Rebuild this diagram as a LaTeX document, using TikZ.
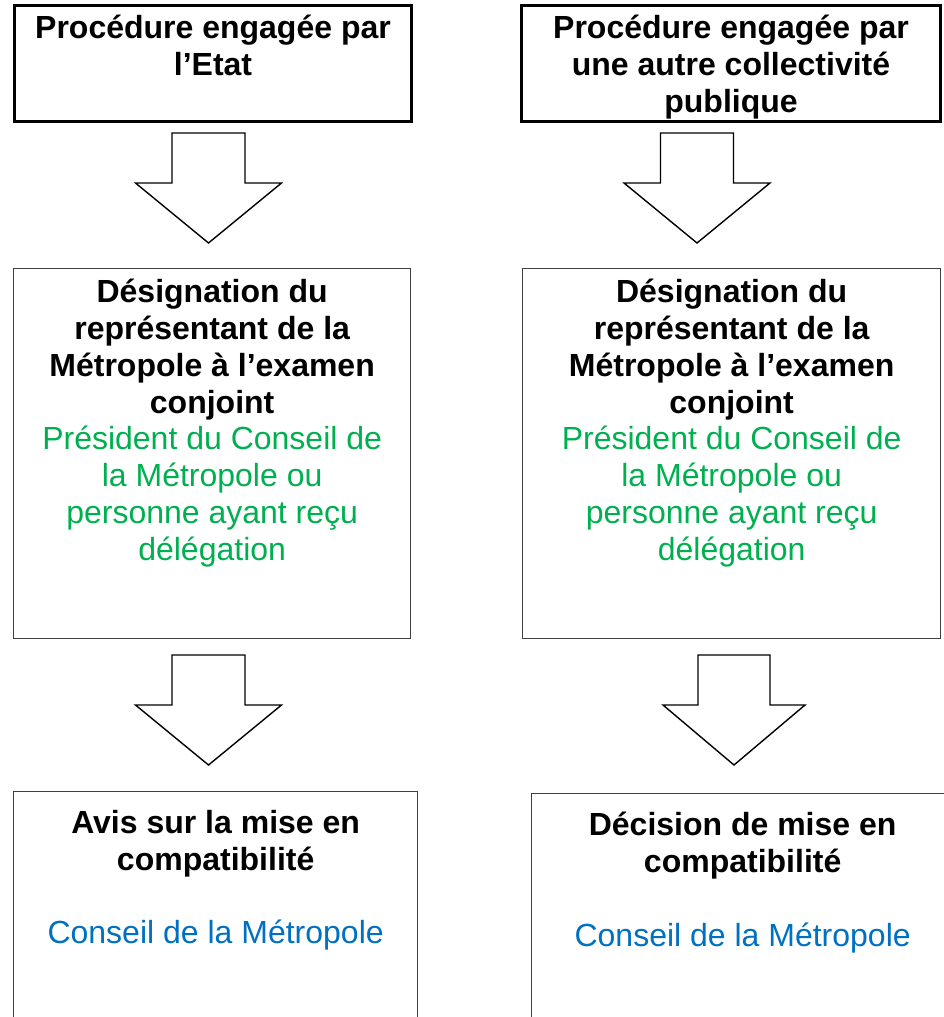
\documentclass[tikz,border=0pt]{standalone}
\usepackage{fontspec}
\setmainfont{Liberation Sans}
\usetikzlibrary{calc}
\definecolor{vert}{HTML}{00B050}
\definecolor{bleu}{HTML}{0070C0}

\begin{document}
\begin{tikzpicture}[x=1pt,y=-1pt,
	titre/.style={draw,line width=3pt,anchor=north west,inner sep=0pt},
	cadre/.style={draw=black!75,line width=1.3pt,anchor=north west,inner sep=0pt},
	texte/.style={anchor=north,align=center,inner sep=0pt,font=\fontsize{32}{36.8}\selectfont},
	fleche/.style={draw,line width=1.4pt,line join=miter}]
		\clip (0,0) rectangle (944,1017);
		
		% cadres du haut
		\node[titre,minimum width=397pt,minimum height=116pt] (etat) at (13,4) {};
		\node[titre,minimum width=419pt,minimum height=116pt] (autre) at (520,4) {};
		\node[texte,font=\fontsize{32}{36.8}\selectfont\bfseries] (t-etat) at ($(etat.north)+(0,11)$) {Procédure engagée par\\l’Etat};
		\node[texte,font=\fontsize{32}{36.8}\selectfont\bfseries] (t-autre) at ($(autre.north)+(0,11)$) {Procédure engagée par\\une autre collectivité\\publique};
		
		% designation
		\node[cadre,minimum width=397pt,minimum height=370pt] (desig1) at (13,268) {};
		\node[cadre,minimum width=418pt,minimum height=370pt] (desig2) at (522,268) {};
		\node[texte] (t-desig1) at ($(desig1.north)+(0,11)$) {\bfseries Désignation du\\\bfseries représentant de la\\\bfseries Métropole à l’examen\\\bfseries conjoint\\\color{vert}Président du Conseil de\\\color{vert}la Métropole ou\\\color{vert}personne ayant reçu\\\color{vert}délégation};
		\node[texte] (t-desig2) at ($(desig2.north)+(0,11)$) {\bfseries Désignation du\\\bfseries représentant de la\\\bfseries Métropole à l’examen\\\bfseries conjoint\\\color{vert}Président du Conseil de\\\color{vert}la Métropole ou\\\color{vert}personne ayant reçu\\\color{vert}délégation};
		
		% cadres du bas (coupes par le bord)
		\node[cadre,minimum width=404pt,minimum height=260pt] (avis) at (13,791) {};
		\node[cadre,minimum width=424pt,minimum height=260pt] (decision) at (531,793) {};
		\node[texte] (t-avis) at ($(avis.north)+(0,19)$) {\bfseries Avis sur la mise en\\\bfseries compatibilité\\[36.8pt]\color{bleu}Conseil de la Métropole};
		\node[texte] (t-decision) at ($(decision.north)+(-1,19)$) {\bfseries Décision de mise en\\\bfseries compatibilité\\[36.8pt]\color{bleu}Conseil de la Métropole};
		
		% fleches
		\coordinate (f1) at (208.5,133);
		\coordinate (f2) at (697,133);
		\coordinate (f3) at (208.5,655);
		\coordinate (f4) at (734,655);
		\foreach \f in {f1,f2,f3}
			\draw[fleche] (\f) ++(-36.5,0) -- ++(73,0) -- ++(0,50) -- ++(36.5,0) -- ++(-73,60) -- ++(-73,-60) -- ++(36.5,0) -- cycle;
		\draw[fleche] (f4) ++(-36,0) -- ++(72,0) -- ++(0,50) -- ++(35,0) -- ++(-71,60) -- ++(-71,-60) -- ++(35,0) -- cycle;
	
	\end{tikzpicture}
\end{document}
